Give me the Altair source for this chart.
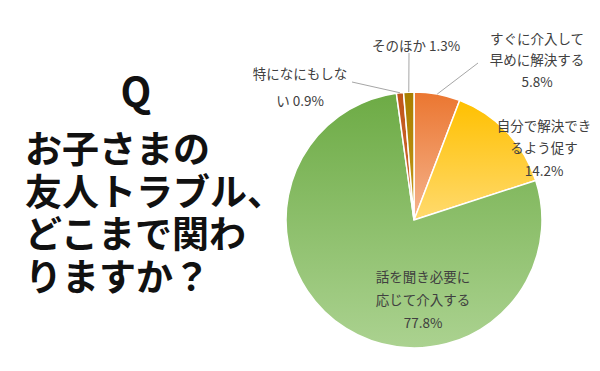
import math
import altair as alt
import pandas as pd

# ---- data ----
categories = ["すぐに介入して早めに解決する", "自分で解決できるよう促す",
              "話を聞き必要に応じて介入する", "特になにもしない", "そのほか"]
values = [5.8, 14.2, 77.8, 0.9, 1.3]
label_lines = [["すぐに介入して", "早めに解決する"], ["自分で解決でき", "るよう促す"],
               ["話を聞き必要に", "応じて介入する"], ["特になにもしな", "い"], ["そのほか"]]
pct_inline = [False, False, False, True, True]
question_mark = "Q"
question_lines = ["お子さまの", "友人トラブル、", "どこまで関わ", "りますか？"]

# ---- styles / layout ----
W, H = 584, 355
CX, CY, R = 406, 212, 128
top_colors = ["#EB7630", "#FFC000", "#6DAB45", "#C0561A", "#A87E00"]
bottom_colors = ["#F5B48E", "#FFDA6E", "#ABD290", "#D06A30", "#C49A1C"]
label_pos = [  # (center x, top y, line height)
    (529, 24.5, 21.7), (536, 111.5, 22.5), (415, 262.5, 23), (292, 59.5, 27.7), (408, 31.5, 20)]
leader_start = {0: (470, 55), 3: (344, 74), 4: (401, 45)}
FONT = "Noto Sans CJK JP"

pie_df = pd.DataFrame({"cat": categories, "value": values, "order": list(range(len(values)))})

base = alt.Chart(pie_df).transform_window(
    end="sum(value)", sort=[alt.SortField("order")], frame=[None, 0]
).transform_calculate(start="datum.end - datum.value")

layers = []
for i in range(len(values)):
    grad = alt.LinearGradient(
        gradient="linear", x1=0, x2=0, y1=0, y2=1,
        stops=[alt.GradientStop(color=top_colors[i], offset=0),
               alt.GradientStop(color=bottom_colors[i], offset=1)])
    layers.append(
        base.transform_filter(alt.datum.order == i).mark_arc(
            outerRadius=R, fill=grad, stroke="white", strokeWidth=1.5
        ).encode(
            theta=alt.Theta("start:Q", scale=alt.Scale(domain=[0, 100])),
            theta2="end:Q",
            x=alt.value(CX), y=alt.value(CY),
        )
    )

# leader lines from labels to slice rims
cum = 0
rows = []
for i, v in enumerate(values):
    mid = (cum + v / 2) / 100 * 2 * math.pi
    cum += v
    if i in leader_start:
        lx, ly = leader_start[i]
        rows.append({"lx": lx, "ly": ly, "rx": CX + R * math.sin(mid), "ry": CY - R * math.cos(mid)})
leader_df = pd.DataFrame(rows)
layers.append(
    alt.Chart(leader_df).mark_rule(color="#A6A6A6", strokeWidth=1).encode(
        x=alt.X("lx:Q", scale=None), y=alt.Y("ly:Q", scale=None),
        x2="rx:Q", y2="ry:Q")
)

# slice labels
one = alt.Data(values=[{}])
for i, v in enumerate(values):
    lines = list(label_lines[i])
    if pct_inline[i]:
        lines[-1] = f"{lines[-1]} {v}%"
    else:
        lines.append(f"{v}%")
    x, y, lh = label_pos[i]
    layers.append(
        alt.Chart(one).mark_text(
            text=lines, font=FONT, fontSize=13.5, color="#404040", align="center",
            baseline="top", lineHeight=lh
        ).encode(x=alt.value(x), y=alt.value(y))
    )

# question text
layers.append(
    alt.Chart(one).mark_text(
        text=question_mark, font=FONT, fontSize=40, fontWeight="bold", color="#111111",
        align="center", baseline="middle"
    ).encode(x=alt.value(128), y=alt.value(87))
)
layers.append(
    alt.Chart(one).mark_text(
        text=question_lines, font=FONT, fontSize=37, fontWeight="bold", color="#111111",
        align="left", baseline="top", lineHeight=42.5
    ).encode(x=alt.value(17), y=alt.value(126))
)

chart = alt.layer(*layers).properties(
    width=W, height=H, autosize="none", padding=0, background="white"
).configure_view(stroke=None)

chart.save("out.html", embed_options={"renderer": "svg", "actions": False})
